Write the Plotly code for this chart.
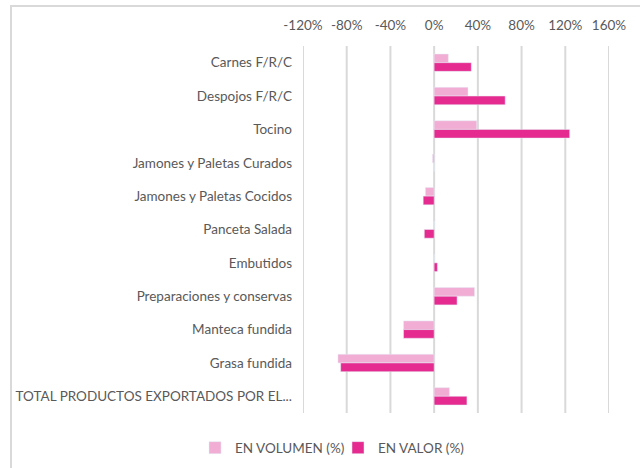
import plotly.graph_objects as go

categories = [
    "Carnes F/R/C",
    "Despojos F/R/C",
    "Tocino",
    "Jamones y Paletas Curados",
    "Jamones y Paletas Cocidos",
    "Panceta Salada",
    "Embutidos",
    "Preparaciones y conservas",
    "Manteca fundida",
    "Grasa fundida",
    "TOTAL PRODUCTOS EXPORTADOS POR EL...",
]
volumen = [13, 31, 39, -1.5, -8, 0, 0, 37, -28, -88, 14]
valor = [34, 65, 124, 0, -10, -9, 3, 21, -28, -85.5, 30]
tick_vals = [-120, -80, -40, 0, 40, 80, 120, 160]
tick_text = ["-120%", "-80%", "-40%", "0%", "40%", "80%", "120%", "160%"]

vol_color = "#F2ADD4"
val_color = "#E52B8F"
grid_color = "#D9D9D9"

fig = go.Figure()
fig.add_trace(go.Bar(
    name="EN VOLUMEN (%)", y=categories, x=volumen, orientation="h",
    marker=dict(color=vol_color),
))
fig.add_trace(go.Bar(
    name="EN VALOR (%)", y=categories, x=valor, orientation="h",
    marker=dict(color=val_color),
))

# vertical gridlines at every tick, edges included (Excel style)
grid_shapes = [
    dict(type="line", xref="x", yref="paper", x0=v, x1=v, y0=0, y1=1,
         line=dict(color=grid_color, width=2), layer="below")
    for v in tick_vals
]
# light outline of the chart area
border = dict(
    type="rect", xref="paper", yref="paper",
    x0=(11 - 303) / 306, x1=1.2, y0=-0.3, y1=(413 - 6) / 367,
    line=dict(color=grid_color, width=2),
)

font_family = "Lato, 'Open Sans', sans-serif"
fig.update_layout(
    width=640, height=468,
    margin=dict(l=303, r=31, t=46, b=55, autoexpand=False),
    paper_bgcolor="white", plot_bgcolor="white",
    barmode="group", bargap=0.48, bargroupgap=0,
    font=dict(family=font_family, size=13.5, color="#595959"),
    showlegend=True,
    legend=dict(
        orientation="h", x=(338 - 303) / 306, xanchor="center",
        y=-0.095, yanchor="middle", entrywidth=98,
        font=dict(size=13.5, color="#595959"), traceorder="normal",
    ),
    xaxis=dict(
        side="top", range=[-120, 160], tickvals=tick_vals, ticktext=tick_text,
        showgrid=False, zeroline=False,
        showline=False, ticks="", automargin=False, ticklabelstandoff=12,
    ),
    yaxis=dict(
        autorange="reversed", showgrid=False, zeroline=False, showline=False,
        ticks="", ticklabelstandoff=10, automargin=False,
    ),
    shapes=grid_shapes + [border],
)

# drop the default page margin so the chart sits at the window's origin
fig.write_html(
    "out.html",
    config={"displayModeBar": False},
    post_script="document.body.style.margin='0';",
)
